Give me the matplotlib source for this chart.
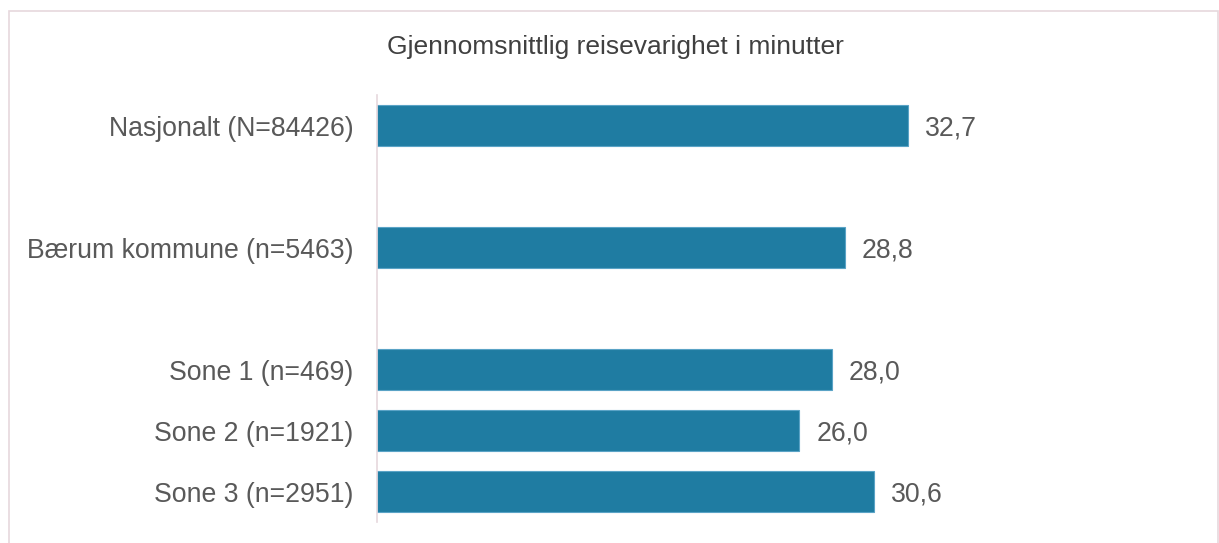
import numpy as np
import matplotlib.pyplot as plt
from matplotlib.patches import Rectangle

plt.rcParams['font.family'] = ['Liberation Sans', 'DejaVu Sans']

title = "Gjennomsnittlig reisevarighet i minutter"
# empty strings are spacer rows between the groups
categories = ["Nasjonalt (N=84426)", "", "Bærum kommune (n=5463)", "",
              "Sone 1 (n=469)", "Sone 2 (n=1921)", "Sone 3 (n=2951)"]
values = [32.7, None, 28.8, None, 28.0, 26.0, 30.6]

bar_color = "#1f7ca2"
text_color = "#595959"
line_color = "#e6d8dd"

W, H = 1219, 543
fig = plt.figure(figsize=(W / 100, H / 100), dpi=100)
ax = fig.add_axes([377 / W, 1 - 522 / H, 812 / W, 427 / H])

ypos = [i for i, v in enumerate(values) if v is not None]
vals = [v for v in values if v is not None]
labels = [categories[i] for i in ypos]

bars = ax.barh(ypos, vals, height=0.66, color=bar_color,
               edgecolor="#5aa3c6", linewidth=0.8)

for y, v in zip(ypos, vals):
    ax.text(v + 1.05, y, f"{v:.1f}".replace(".", ","), va="center_baseline",
            ha="left", fontsize=19.2, color=text_color)

ax.set_yticks(ypos)
ax.set_yticklabels(labels, fontsize=19.2, color=text_color)
ax.tick_params(axis="y", length=0, pad=17)
ax.set_xticks([])
ax.set_xlim(0, 50)
ax.set_ylim(len(categories) - 0.5, -0.5)

for s in ["top", "right", "bottom"]:
    ax.spines[s].set_visible(False)
ax.spines["left"].set_color(line_color)
ax.spines["left"].set_linewidth(1.2)

fig.text(615 / W, 1 - 47 / H, title, ha="center", va="center",
         fontsize=19, color="#404040")

# outer frame of the chart area
fig.patches.append(Rectangle((9 / W, -0.02), 1209 / W, 1 - 11 / H + 0.02,
                             transform=fig.transFigure, fill=False,
                             edgecolor=line_color, linewidth=1.2))

fig.savefig("out.png", dpi=100)
